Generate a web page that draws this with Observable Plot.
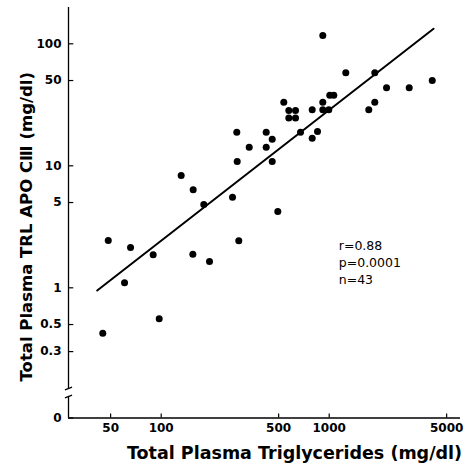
<!DOCTYPE html>
<html><head><meta charset="utf-8">
<script src="https://cdn.jsdelivr.net/npm/d3@7"></script>
<script src="https://cdn.jsdelivr.net/npm/@observablehq/plot@0.6"></script>
<style>body{margin:0;background:#fff}</style>
</head><body><div id="chart"></div>
<script>
// Total plasma triglycerides (mg/dl)
const triglycerides = [44.9, 48.4, 60.5, 65.7, 89.6, 97.3, 131.5, 155.0, 154.3, 179.3,
  193.9, 265.7, 289.6, 281.8, 283.4, 334.1, 421.7, 421.7, 457.9, 457.9,
  494.4, 536.7, 574.9, 630.1, 574.9, 630.1, 674.8, 792.0, 792.0, 851.8,
  916.0, 916.0, 916.0, 994.5, 1008, 1065, 1255, 1720, 1868, 1868,
  2194, 2994, 4104];
// Total plasma TRL apo CIII (mg/dl)
const apoC3 = [0.425, 2.44, 1.10, 2.14, 1.87, 0.557, 8.33, 6.36, 1.886, 4.82,
  1.64, 5.53, 2.43, 18.86, 10.85, 14.2, 18.86, 14.2, 16.52, 10.85,
  4.22, 33.2, 28.4, 28.4, 24.7, 24.7, 18.86, 28.8, 16.84, 19.1,
  117.0, 33.2, 28.8, 28.8, 37.9, 37.9, 57.9, 28.8, 33.2, 57.9,
  43.6, 43.6, 50.0];
// regression line end points
const fitX = [41.6, 4180];
const fitY = [0.95, 133];
const xTicks = [50, 100, 500, 1000, 5000];
const yTickValues = [0.3, 0.5, 1, 5, 10, 50, 100];
const stats = ["r=0.88", "p=0.0001", "n=43"];
const xTitle = "Total Plasma Triglycerides (mg/dl)";
const yTitle = "Total Plasma TRL APO C\u2162 (mg/dl)";

const points = triglycerides.map((x, i) => ({x, y: apoC3[i]}));
const fit = fitX.map((x, i) => ({x, y: fitY[i]}));

const xMin = 28.07, xMax = 6046;
const yZero = 0.0857, yMax = 198.4;   // axis floor drawn as "0"
const breakLo = 0.1285, breakHi = 0.1496;
const yTicks = [yZero, ...yTickValues];

const chart = Plot.plot({
  width: 469,
  height: 464,
  marginLeft: 68,
  marginRight: 9,
  marginTop: 7,
  marginBottom: 46.5,
  style: {fontFamily: "DejaVu Sans", fontSize: "12px", fontWeight: "bold", background: "white", color: "black"},
  x: {type: "log", domain: [xMin, xMax], axis: null},
  y: {type: "log", domain: [yZero, yMax], axis: null},
  marks: [
    Plot.ruleY([yZero], {stroke: "black", strokeWidth: 1.3}),
    Plot.ruleX([xMin], {y1: yZero, y2: breakLo, stroke: "black", strokeWidth: 1.3}),
    Plot.ruleX([xMin], {y1: breakHi, y2: yMax, stroke: "black", strokeWidth: 1.3}),
    Plot.link([breakLo, breakHi], {x1: xMin / 1.05, x2: xMin * 1.05, y1: d => d / 1.025, y2: d => d * 1.025, stroke: "black", strokeWidth: 1.3}),
    Plot.ruleX(xTicks, {x: d => d, y1: yZero, y2: yZero * 1.08, stroke: "black", strokeWidth: 1.2}),
    Plot.ruleY(yTicks, {y: d => d, x1: xMin, x2: xMin * 1.075, stroke: "black", strokeWidth: 1.2}),
    Plot.text(xTicks, {x: d => d, frameAnchor: "bottom", lineAnchor: "top", textAnchor: "middle", dy: 5, text: d => String(d), fontSize: 12, fill: "black"}),
    Plot.text(yTicks, {y: d => d, frameAnchor: "left", textAnchor: "end", lineAnchor: "middle", dx: -7, text: d => d === yZero ? "0" : String(d), fontSize: 12, fill: "black"}),
    Plot.line(fit, {x: "x", y: "y", stroke: "black", strokeWidth: 2}),
    Plot.dot(points, {x: "x", y: "y", r: 3.5, fill: "black", stroke: "none"}),
    Plot.text([stats.join("\n")], {x: 1140, y: 1.65, textAnchor: "start", lineAnchor: "middle", lineHeight: 1.36, fontSize: 12.5, fontWeight: "normal", fill: "black"}),
    Plot.text([xTitle], {frameAnchor: "bottom", textAnchor: "middle", lineAnchor: "middle", dy: 35, dx: 30, fontSize: 17.5, fontWeight: "bold", fill: "black"}),
    Plot.text([yTitle], {frameAnchor: "left", textAnchor: "middle", lineAnchor: "middle", rotate: -90, dx: -42, dy: 14, fontSize: 16.5, fontWeight: "bold", fill: "black"})
  ]
});
document.getElementById("chart").appendChild(chart);
</script>
</body></html>
